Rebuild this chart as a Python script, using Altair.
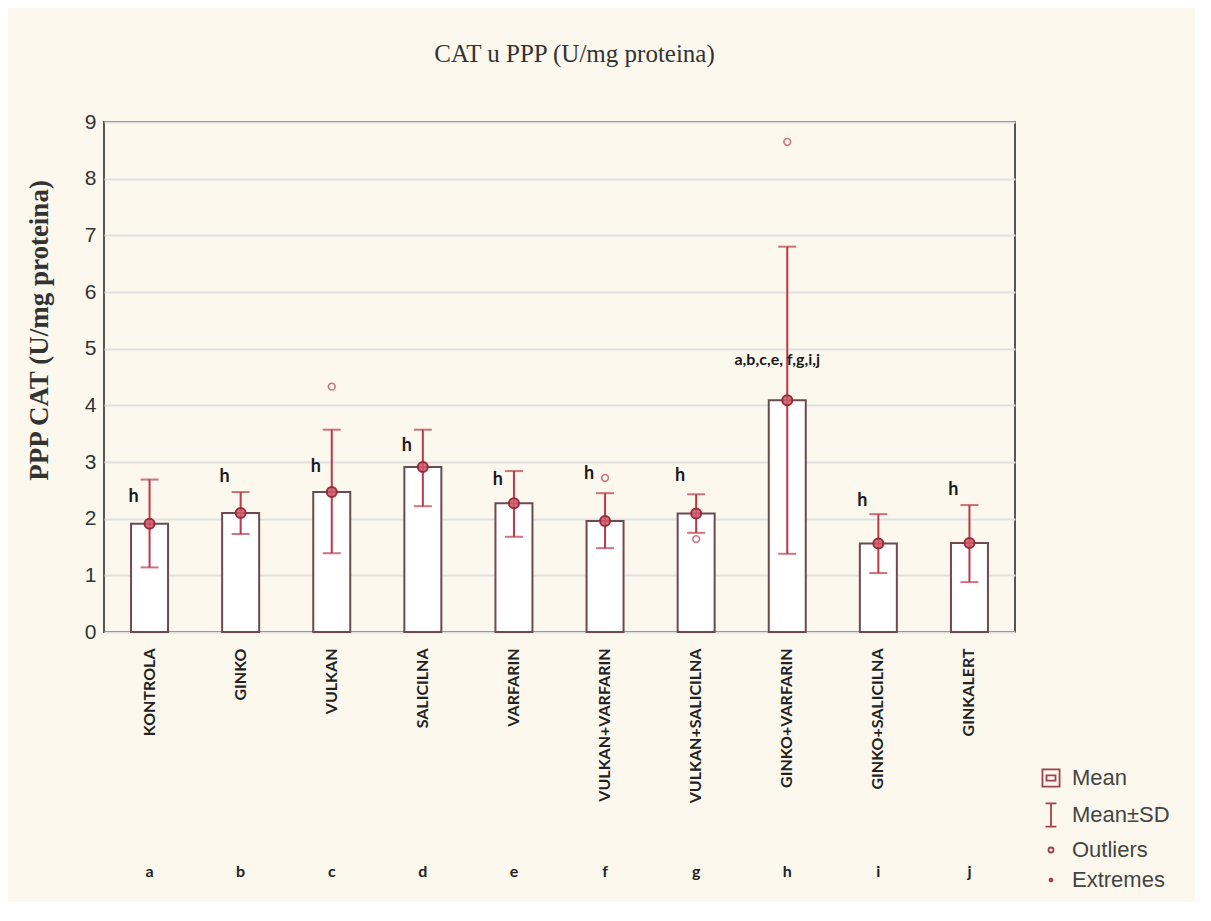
import altair as alt
import pandas as pd

groups = ["KONTROLA", "GINKO", "VULKAN", "SALICILNA", "VARFARIN",
          "VULKAN+VARFARIN", "VULKAN+SALICILNA", "GINKO+VARFARIN",
          "GINKO+SALICILNA", "GINKALERT"]
letters = ["a", "b", "c", "d", "e", "f", "g", "h", "i", "j"]
means = [1.91, 2.10, 2.47, 2.91, 2.27, 1.96, 2.09, 4.09, 1.56, 1.57]
sd_low = [1.14, 1.73, 1.39, 2.22, 1.68, 1.48, 1.75, 1.38, 1.04, 0.88]
sd_high = [2.69, 2.47, 3.57, 3.57, 2.84, 2.45, 2.43, 6.80, 2.08, 2.24]

outlier_groups = ["VULKAN", "VULKAN+VARFARIN", "VULKAN+SALICILNA", "GINKO+VARFARIN"]
outlier_values = [4.33, 2.72, 1.64, 8.65]

sig_groups = ["KONTROLA", "GINKO", "VULKAN", "SALICILNA", "VARFARIN",
              "VULKAN+VARFARIN", "VULKAN+SALICILNA", "GINKO+SALICILNA", "GINKALERT"]
sig_text = ["h", "h", "h", "h", "h", "h", "h", "h", "h"]
sig_y = [2.38, 2.73, 2.92, 3.29, 2.68, 2.78, 2.75, 2.31, 2.50]

big_group = ["GINKO+VARFARIN"]
big_text = ["a,b,c,e, f,g,i,j"]
big_y = [4.80]

legend_items = ["Mean", "Mean±SD", "Outliers", "Extremes"]
legend_paths = [
    "M-0.95,-0.95H0.95V0.95H-0.95Z M-0.5,-0.3H0.5V0.3H-0.5Z",
    "M-0.6,-1.3H0.6 M0,-1.3V1.3 M-0.6,1.3H0.6",
    "M0.28,0A0.28,0.28 0 1,1 -0.28,0A0.28,0.28 0 1,1 0.28,0Z",
    "M-0.25,0H0.25 M0,-0.25V0.25 M-0.18,-0.18L0.18,0.18 M-0.18,0.18L0.18,-0.18",
]

summary = pd.DataFrame({"group": groups, "letter": letters, "mean": means,
                        "lo": sd_low, "hi": sd_high})
outliers = pd.DataFrame({"group": outlier_groups, "value": outlier_values})
sig = pd.DataFrame({"group": sig_groups, "text": sig_text, "y": sig_y})
big = pd.DataFrame({"group": big_group, "text": big_text, "y": big_y})
leg = pd.DataFrame({"item": legend_items})

RED = "#b8394a"
BAR_STROKE = "#6b4a50"
SANS = "Liberation Sans"
SERIF = "Liberation Serif"

yscale = alt.Scale(domain=[0, 9], nice=False, zero=True)
yaxis = alt.Axis(title="PPP CAT (U/mg proteina)", titleFont=SERIF, titleFontSize=27,
                 titleFontWeight="bold", titleColor="#333333", titlePadding=31,
                 titleY=208,
                 labelFont=SANS, labelFontSize=21, labelColor="#333333", labelPadding=8,
                 values=[0, 1, 2, 3, 4, 5, 6, 7, 8, 9], grid=True, gridColor="#e0e0e0",
                 gridWidth=2, domain=False, ticks=False)

letter_expr = "{" + ",".join(f"'{g}':'{l}'" for g, l in zip(groups, letters)) + "}[datum.value]"

xscale = alt.Scale(domain=groups)

base = alt.Chart(summary)

bars = base.mark_bar(size=37, fill="white", stroke=BAR_STROKE, strokeWidth=2).encode(
    x=alt.X("group:N", scale=xscale, sort=groups,
            axis=alt.Axis(orient="bottom", title=None, labelAngle=270, labelFont="Lato",
                          labelFontWeight="bold", labelFontSize=16, labelColor="#222222",
                          labelPadding=16, ticks=False, domain=False, grid=False)),
    y=alt.Y("mean:Q", scale=yscale, axis=yaxis),
)

err = base.mark_rule(color=RED, strokeWidth=2).encode(
    x=alt.X("group:N", scale=xscale, sort=groups, axis=None),
    y=alt.Y("lo:Q", scale=yscale, axis=yaxis),
    y2="hi:Q",
)

cap_lo = base.mark_tick(color=RED, size=18, thickness=2).encode(
    x=alt.X("group:N", scale=xscale, sort=groups, axis=None),
    y=alt.Y("lo:Q", scale=yscale, axis=yaxis),
)
cap_hi = base.mark_tick(color=RED, size=18, thickness=2).encode(
    x=alt.X("group:N", scale=xscale, sort=groups, axis=None),
    y=alt.Y("hi:Q", scale=yscale, axis=yaxis),
)

mean_pts = base.mark_point(shape="circle", size=100, filled=True, fill="#cf5a68",
                           fillOpacity=0.85, stroke="#9a2a3a", strokeWidth=2).encode(
    x=alt.X("group:N", scale=xscale, sort=groups,
            axis=alt.Axis(orient="bottom", title=None, labelExpr=letter_expr, labelAngle=0,
                          labelFont="Lato", labelFontWeight="bold", labelFontSize=16,
                          labelColor="#222222", offset=231, ticks=False, domain=False,
                          grid=False, labelPadding=0)),
    y=alt.Y("mean:Q", scale=yscale, axis=yaxis),
)

out_pts = alt.Chart(outliers).mark_point(shape="circle", size=45, filled=False,
                                         color=RED, strokeWidth=1.6).encode(
    x=alt.X("group:N", scale=xscale, sort=groups, axis=None),
    y=alt.Y("value:Q", scale=yscale, axis=yaxis),
)

sig_txt = alt.Chart(sig).mark_text(font="Lato", fontWeight="bold", fontSize=18,
                                   color="#1a1a1a", dx=-16, baseline="middle").encode(
    x=alt.X("group:N", scale=xscale, sort=groups, axis=None),
    y=alt.Y("y:Q", scale=yscale, axis=yaxis),
    text="text:N",
)

big_txt = alt.Chart(big).mark_text(font="Lato", fontWeight="bold", fontSize=16,
                                   color="#1a1a1a", dx=-10, baseline="middle").encode(
    x=alt.X("group:N", scale=xscale, sort=groups, axis=None),
    y=alt.Y("y:Q", scale=yscale, axis=yaxis),
    text="text:N",
)

legend_layer = alt.Chart(leg).mark_point(opacity=0, filled=False, color="#a0404a").encode(
    shape=alt.Shape("item:N", scale=alt.Scale(domain=legend_items, range=legend_paths),
                    legend=alt.Legend(title=None, orient="none", legendX=936, legendY=645,
                                      labelFont=SANS, labelFontSize=22, labelColor="#444444",
                                      symbolSize=324, symbolStrokeWidth=1.8,
                                      symbolStrokeColor="#a0404a", symbolFillColor="transparent",
                                      symbolOpacity=1, rowPadding=8, labelOffset=10)),
)

chart = alt.layer(bars, err, cap_lo, cap_hi, mean_pts, out_pts, sig_txt, big_txt, legend_layer).resolve_axis(
    x="independent"
).properties(
    width=911,
    height=510,
    title=alt.TitleParams("CAT u PPP (U/mg proteina)", font=SERIF, fontSize=25,
                          fontWeight="normal", color="#333333", dx=15, offset=44),
    autosize=alt.AutoSizeParams(type="none"),
    padding={"left": 96, "top": 114, "right": 180, "bottom": 270},
    background="#fcf8ee",
).configure_view(
    fill="white", stroke="#555555", strokeWidth=2
)

chart.save("out.html", embed_options={"renderer": "svg", "actions": False})
